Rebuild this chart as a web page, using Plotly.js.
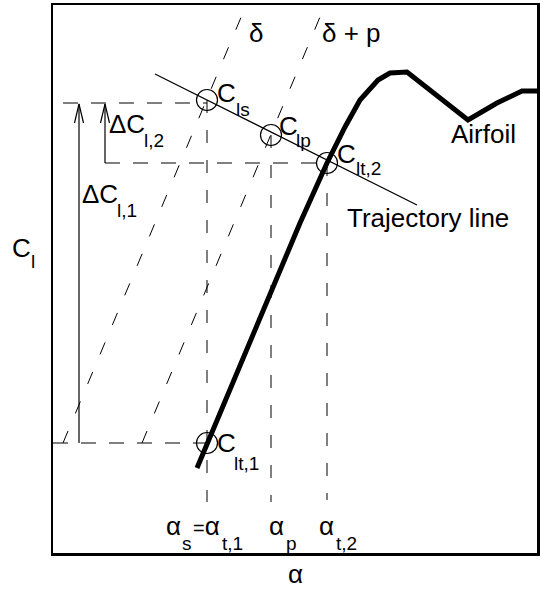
<!DOCTYPE html>
<html><head><meta charset="utf-8">
<script src="https://cdn.plot.ly/plotly-3.0.1.min.js"></script>
<style>html,body{margin:0;padding:0;background:#fff}#chart{width:540px;height:592px}</style>
</head><body><div id="chart"></div>
<script>
// Schematic, arbitrary units: alpha on x, C_l on y
const airfoilAlpha = [144, 247, 274, 292, 307, 325, 337, 354, 415, 444, 469, 484];
const airfoilCl    = [85, 330, 390, 426, 453, 473, 480, 481, 433, 450, 462, 462];
const trajectoryAlpha = [102, 364];
const trajectoryCl    = [479, 348];
const pointNames = ['C_ls', 'C_lp', 'C_lt,2', 'C_lt,1'];
const pointAlpha = [154, 218, 274, 154];
const pointCl    = [453, 418, 390, 110];
const deltaAlpha  = [10, 189];
const deltaCl     = [110, 538];
const deltaPAlpha = [89, 267];
const deltaPCl    = [110, 536];
const levelCl     = [450, 390, 110];       // C_ls, C_lt2, C_lt1 levels
const levelStart  = [10, 52, 0];
const levelEnd    = [154, 274, 154];
const alphaMarks  = [154, 218, 274];       // alpha_s=alpha_t1, alpha_p, alpha_t2
const alphaMarkTop = [453, 418, 390];
const alphaMarkBottom = [51, 51, 53];
const dClAlpha = [26, 52];                 // ΔC_l,1 and ΔC_l,2 arrows
const dClFrom  = [110, 390];
const dClTo    = [449, 449];

const X_RANGE = [0, 484], Y_RANGE = [0, 548];
const FONT = 'Liberation Sans, Arial, Helvetica, sans-serif';
const thin = 1.2;
const black = '#000';

function seg(xs0, xs1, ys0, ys1) {
  const x = [], y = [];
  for (let i = 0; i < xs0.length; i++) { x.push(xs0[i], xs1[i], null); y.push(ys0[i], ys1[i], null); }
  return {x, y};
}
const hz = seg(levelStart, levelEnd, levelCl, levelCl);
const vt = seg(alphaMarks, alphaMarks, alphaMarkTop, alphaMarkBottom);

// arrows with open V heads
const ax = [], ay = [];
const headW = 4.5, headL = 19;
for (let i = 0; i < dClAlpha.length; i++) {
  const a = dClAlpha[i];
  ax.push(a, a, null, a - headW, a, a + headW, null);
  ay.push(dClFrom[i], dClTo[i], null, dClTo[i] - headL, dClTo[i], dClTo[i] - headL, null);
}

const traces = [
  {x: deltaAlpha, y: deltaCl, mode: 'lines', line: {color: black, width: 1, dash: '13px,19px'}},
  {x: deltaPAlpha, y: deltaPCl, mode: 'lines', line: {color: black, width: 1, dash: '13px,19px'}},
  {x: hz.x, y: hz.y, mode: 'lines', line: {color: black, width: 1, dash: '15px,13px'}},
  {x: vt.x, y: vt.y, mode: 'lines', line: {color: black, width: 1, dash: '13px,17px'}},
  {x: ax, y: ay, mode: 'lines', line: {color: black, width: thin}},
  {x: trajectoryAlpha, y: trajectoryCl, mode: 'lines', line: {color: black, width: thin}},
  {x: airfoilAlpha, y: airfoilCl, mode: 'lines', line: {color: black, width: 5}},
  {x: pointAlpha, y: pointCl, text: pointNames, mode: 'markers',
   marker: {symbol: 'circle-open', size: 21, color: black, line: {color: black, width: thin}}}
];

function t(text, x, y, size, xanchor) {
  return {text, x, y, xref: 'x', yref: 'y', showarrow: false,
    xanchor: xanchor || 'left', yanchor: 'middle', borderpad: 0, borderwidth: 0,
    font: {family: FONT, size: size, color: black}};
}
// same, but placed on paper (for texts outside the axis ranges)
function tp(text, x, y, size, xanchor) {
  const o = t(text, (x - X_RANGE[0]) / (X_RANGE[1] - X_RANGE[0]), (y - Y_RANGE[0]) / (Y_RANGE[1] - Y_RANGE[0]), size, xanchor);
  o.xref = 'paper'; o.yref = 'paper';
  return o;
}
const M = 26, S = 19;
const annotations = [
  t('δ', 203, 520, M, 'center'),
  t('δ + p', 269, 520, M),
  t('C', 164, 460, M), t('ls', 183, 443.6, S),
  t('C', 226, 427, M), t('lp', 243, 412.6, S),
  t('C', 284, 399, M), t('lt,2', 303, 384.6, S),
  t('C', 164, 110, M), t('lt,1', 181, 89.6, S),
  t('Airfoil', 398, 419, M),
  t('Trajectory line', 294, 335, M),
  t('ΔC', 56, 429, M), t('l,2', 91, 412.6, S),
  t('ΔC', 29, 359, M), t('l,1', 64, 342.6, S),
  tp('C', -41, 305, M), tp('l', -22, 291.6, S),
  tp('α', 242.5, -21, M, 'center'),
  t('α', 113, 27, M), t('s', 129, 9.6, S),
  t('<span style="font-size:20px">=</span>α', 140, 27, M), t('t,1', 169, 9.6, S),
  t('α', 216, 27, M), t('p', 233, 9.6, S),
  t('α', 266, 27, M), t('t,2', 283, 9.6, S)
];

const axisCommon = {showline: true, mirror: true, linecolor: black, linewidth: 2.5,
  showgrid: false, zeroline: false, showticklabels: false, ticks: '', fixedrange: true};

const layout = {
  width: 540, height: 592,
  margin: {l: 53, r: 3, t: 5, b: 39, pad: 0},
  paper_bgcolor: '#fff', plot_bgcolor: '#fff',
  showlegend: false,
  xaxis: Object.assign({range: X_RANGE}, axisCommon),
  yaxis: Object.assign({range: Y_RANGE}, axisCommon),
  annotations: annotations,
  font: {family: FONT, color: black}
};

Plotly.newPlot('chart', traces, layout, {staticPlot: true, displayModeBar: false});
</script>
</body></html>
